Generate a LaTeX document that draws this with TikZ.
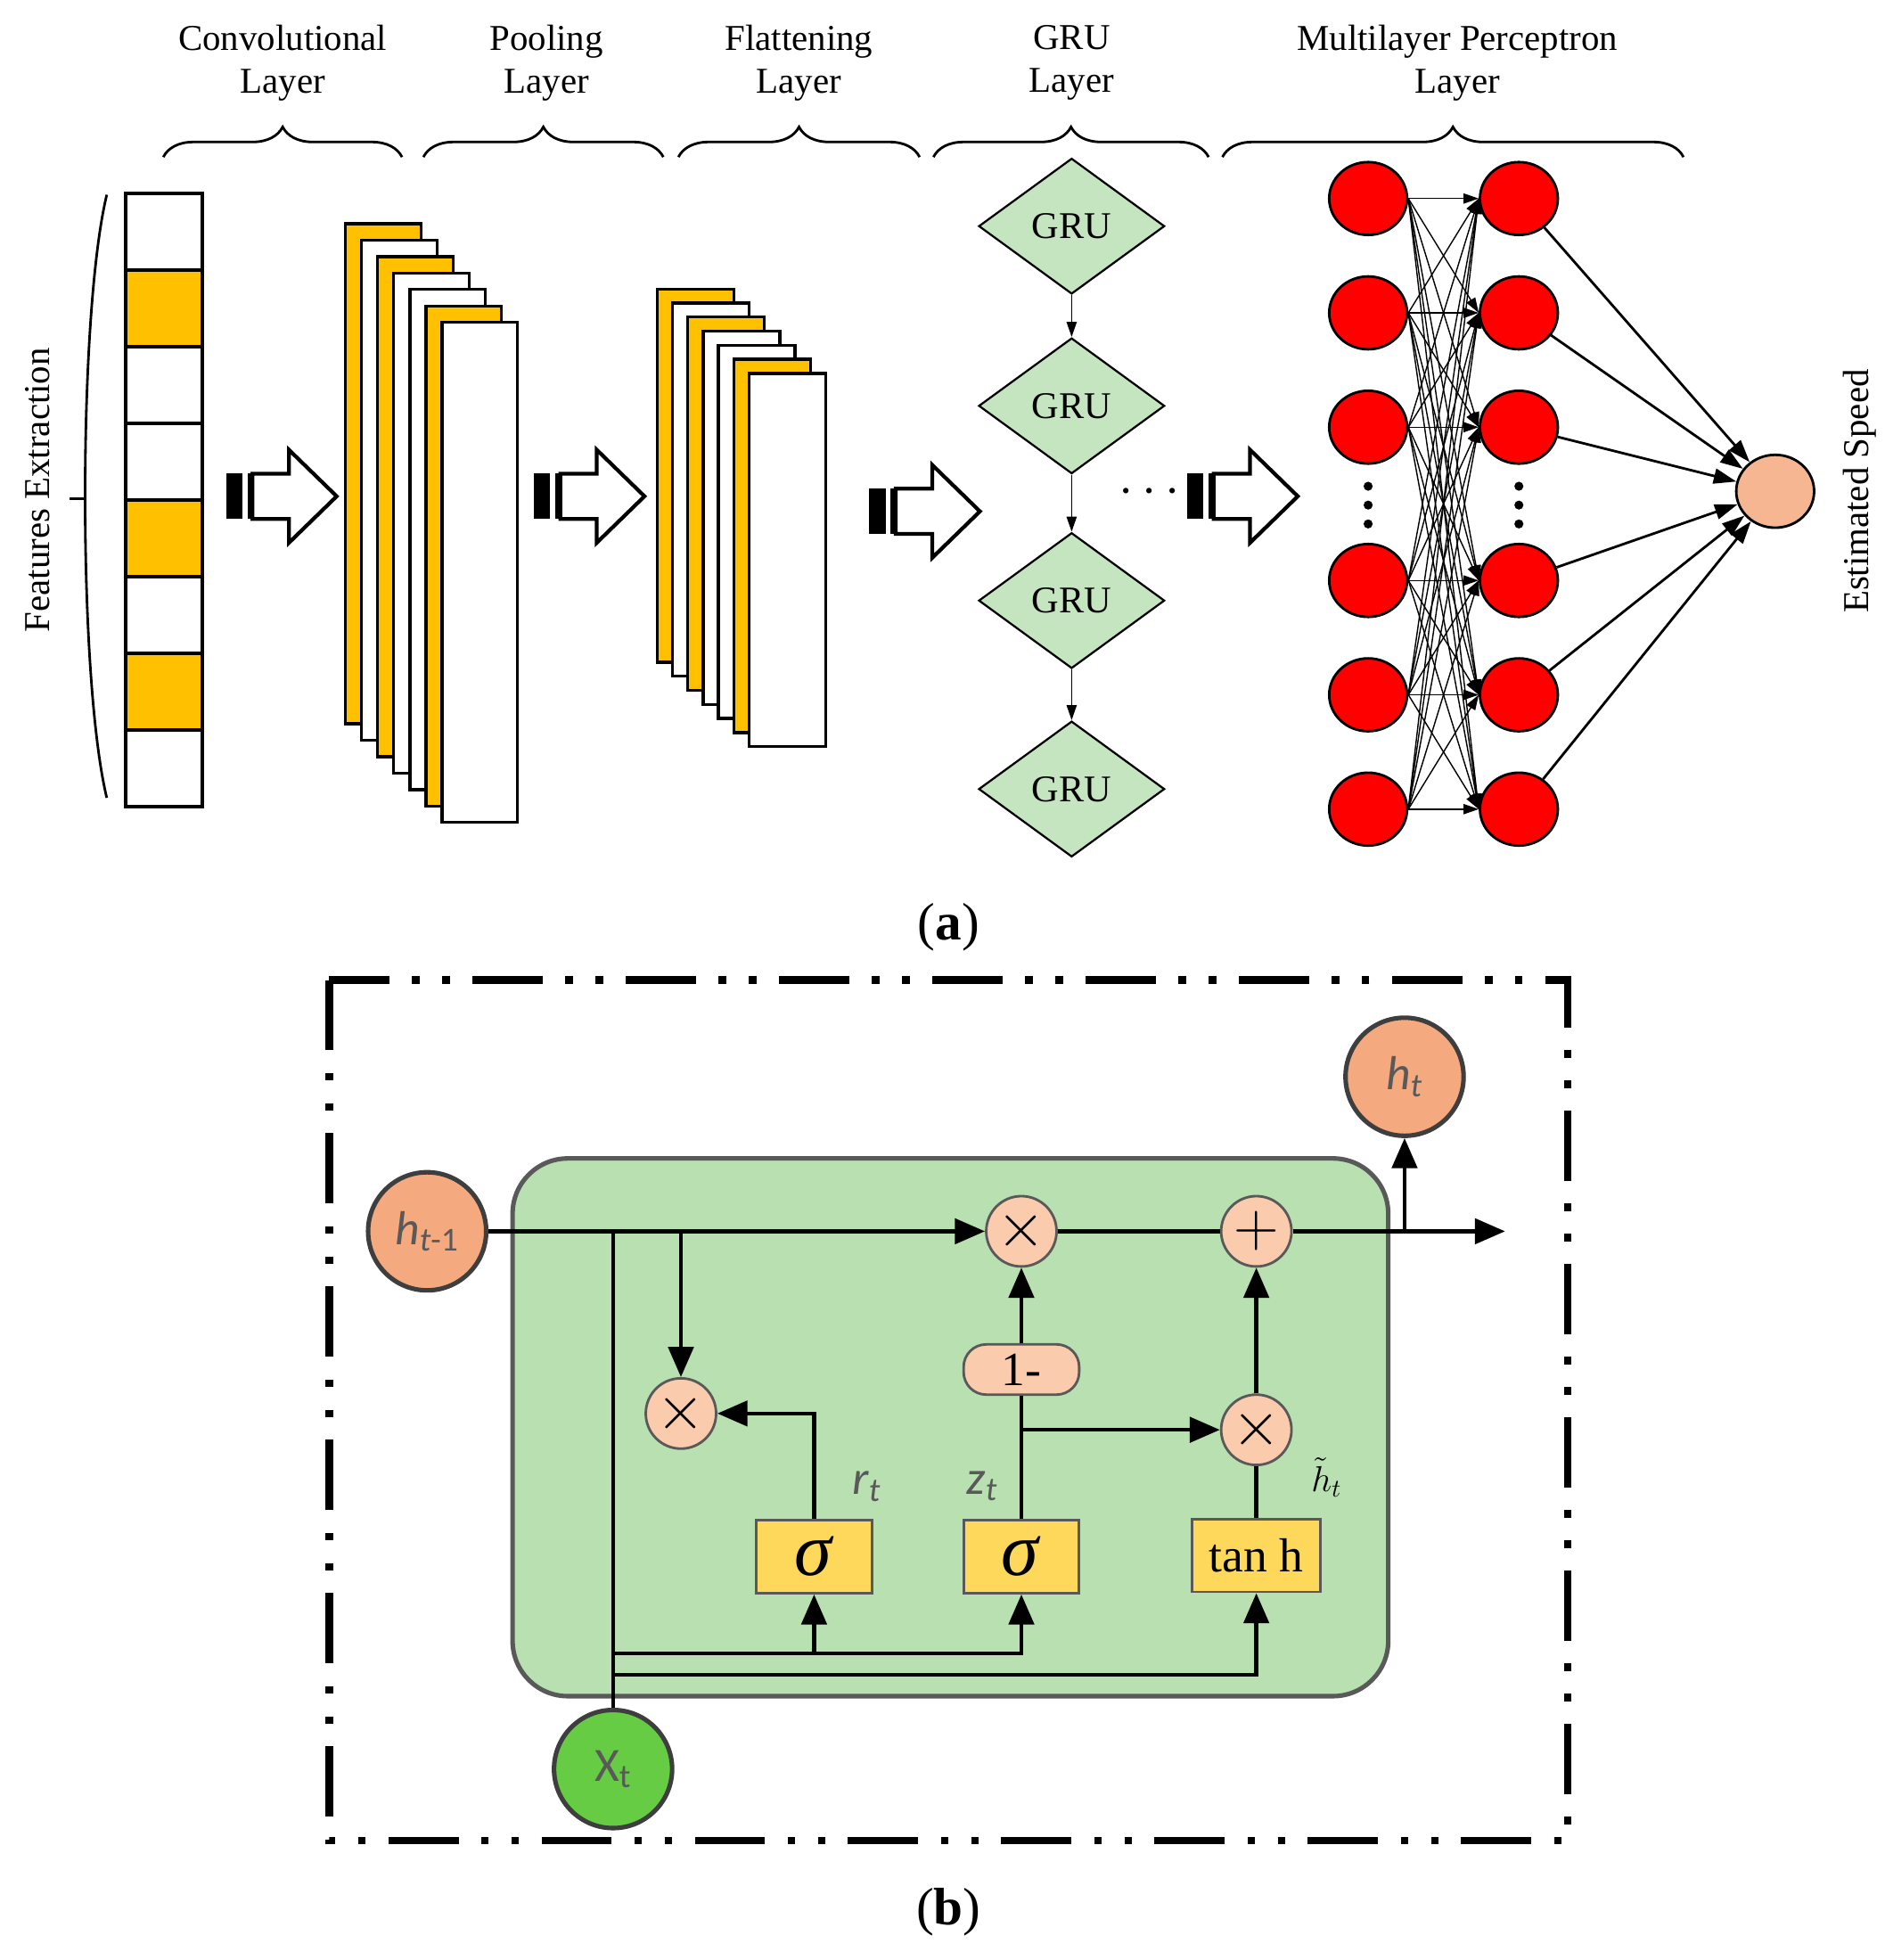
\documentclass[tikz,border=0pt]{standalone}
\usepackage{fontspec}
\setmainfont{Liberation Serif}
\newfontfamily\carfnt{Carlito}
\usetikzlibrary{shapes.geometric,arrows.meta,decorations.pathreplacing}
\definecolor{orng}{HTML}{FFC000}
\definecolor{gruG}{HTML}{C5E5C0}
\definecolor{boxG}{HTML}{B8E0B0}
\definecolor{salm}{HTML}{F4A97F}
\definecolor{lsalm}{HTML}{FBCBAE}
\definecolor{yel}{HTML}{FDD85B}
\definecolor{xg}{HTML}{66CC44}
\definecolor{dg}{HTML}{595959}
\newcommand\blkarrow[2]{\begin{scope}[shift={(#1,#2)}]
 \fill (0,-18) rectangle (13,18);
 \fill (17,-18) rectangle (21,18);
 \draw[line width=1.5pt,fill=white] (21,-18) -- (50,-18) -- (50,-37) -- (88,0) -- (50,37) -- (50,18) -- (21,18) -- cycle;
\end{scope}}
\begin{document}
\begin{tikzpicture}[x=0.5pt,y=-0.5pt,
 lab/.style={font=\fontsize{14.5}{17}\selectfont,align=center},
 brc/.style={decorate,decoration={brace,amplitude=12pt},line width=1pt},
 lay/.style={draw,line width=1.2pt},
 gru/.style={diamond,draw,fill=gruG,line width=0.8pt,minimum width=74pt,minimum height=54pt,inner sep=0pt,font=\fontsize{15}{17}\selectfont},
 neu/.style={ellipse,draw,fill=red,line width=1pt,minimum width=31pt,minimum height=29pt,inner sep=0pt},
 thin/.style={-{Triangle[length=6pt,width=4pt]},line width=0.6pt},
 arr/.style={-{Triangle[length=12pt,width=10pt]},line width=1.6pt},
 ln/.style={line width=1.6pt},
 op/.style={circle,draw=dg,fill=lsalm,line width=1pt,minimum size=28pt,inner sep=0pt,font=\fontsize{34}{34}\selectfont},
 bc/.style={circle,draw=dg!70!black,line width=1.8pt,minimum size=47pt,inner sep=0pt,text=dg,font=\carfnt\fontsize{19}{19}\selectfont},
 sg/.style={draw=dg,fill=yel,line width=1pt,minimum width=46pt,minimum height=29pt,inner sep=0pt}]
\useasboundingbox (0,0) rectangle (1500,1560);
% labels
\node[lab] (l1) at (225,50) {Convolutional\\Layer};
\node[lab] (l2) at (435,50) {Pooling\\Layer};
\node[lab] (l3) at (636,50) {Flattening\\Layer};
\node[lab] (l4) at (853,50) {GRU\\Layer};
\node[lab] (l5) at (1160,50) {Multilayer Perceptron\\Layer};
\foreach \a/\b in {130/320,337/528,540/732,743/962,973/1340}
  \draw[brc] (\a,125) -- (\b,125);
% feature column
\foreach \i/\c in {0/white,1/orng,2/white,3/white,4/orng,5/white,6/orng,7/white}
  \draw[lay,fill=\c] (100,154+61*\i) rectangle (161,215+61*\i);
\draw[line width=1pt] (85,155) .. controls (62,250) and (62,540) .. (85,635);
\draw[line width=1pt] (55,397) -- (68,397);
\node[lab,rotate=90] (fe) at (30,390) {Features Extraction};
% conv stack
\foreach \i/\c in {0/orng,1/white,2/orng,3/white,4/white,5/orng,6/white}
  \draw[lay,fill=\c] (275+12.8*\i,178+13.1*\i) rectangle +(60,398);
\foreach \i/\c in {0/orng,1/white,2/orng,3/white,4/white,5/orng,6/white}
  \draw[lay,fill=\c] (523+12.2*\i,230+11.2*\i) rectangle +(61,297);
\blkarrow{180}{395}
\blkarrow{425}{395}
\blkarrow{692}{407}
\blkarrow{945}{395}
% GRU
\node[gru] (g1) at (853,180) {GRU};
\node[gru] (g2) at (853,323) {GRU};
\node[gru] (g3) at (853,478) {GRU};
\node[gru] (g4) at (853,628) {GRU};
\draw[thin] (g1) -- (g2);
\draw[thin] (g2) -- (g3);
\draw[thin] (g3) -- (g4);
\node[font=\fontsize{20}{20}\selectfont] (dd) at (915,392) {$\cdots$};
% MLP
\foreach \i/\y in {1/158,2/249,3/340,4/462,5/553,6/644}{
  \node[neu] (a\i) at (1089,\y) {};
  \node[neu] (b\i) at (1209,\y) {};}
\foreach \i in {1,...,6}\foreach \j in {1,...,6}
  \draw[thin,line width=0.5pt] (a\i.east) -- (b\j.west);
\foreach \x in {1089,1209}\foreach \y in {387,402,417}
  \fill (\x,\y) circle (1.8pt);
\node[ellipse,draw,fill=salm!85!white,line width=1pt,minimum width=31pt,minimum height=29pt] (o) at (1413,391) {};
\foreach \i in {1,...,6} \draw[-{Triangle[length=9pt,width=6pt]},line width=1pt] (b\i) -- (o);
\node[lab,rotate=90] (es) at (1480,391) {Estimated Speed};
\node[font=\fontsize{21}{21}\selectfont] (la) at (755,738) {(\textbf{a})};
% part b
\draw[line width=3pt,dash pattern=on 28pt off 9pt on 3pt off 9pt on 3pt off 9pt] (262,780) rectangle (1248,1465);
\draw[draw=dg,fill=boxG,line width=1.8pt,rounded corners=22pt] (408,922) rectangle (1105,1350);
\node[bc,fill=salm] (hp) at (340,980) {\textit{h}\textsubscript{\textit{t}-1}};
\node[bc,fill=salm] (ht) at (1118,857) {\textit{h}\textsubscript{\textit{t}}};
\node[bc,fill=xg] (xt) at (488,1408) {X\textsubscript{t}};
\node[op] (m1) at (813,980) {$\times$};
\node[op] (pl) at (1000,980) {$+$};
\node[op] (m2) at (542,1125) {$\times$};
\node[op] (m3) at (1000,1138) {$\times$};
\node[sg] (sr) at (648,1239) {\fontsize{30}{30}\selectfont\textit{σ}};
\node[sg] (sz) at (813,1239) {\fontsize{30}{30}\selectfont\textit{σ}};
\node[sg,minimum width=51pt] (th) at (1000,1238) {\fontsize{19}{19}\selectfont tan h};
\node[draw=dg,fill=lsalm,line width=1pt,rounded corners=9pt,minimum width=46pt,minimum height=20pt,inner sep=0pt,font=\fontsize{19}{19}\selectfont] (om) at (813,1090) {1-};
\coordinate (out) at (1198,980);
\coordinate (j1) at (488,980);
\coordinate (j2) at (542,980);
\coordinate (j3) at (1118,980);
\draw[arr] (hp) -- (m1);
\draw[ln] (m1) -- (pl);
\draw[arr] (pl) -- (out);
\draw[arr] (j3) -- (ht);
\draw[arr] (j2) -- (m2);
\draw[arr] (sr.north) |- (m2);
\draw[ln] (sz) -- (om);
\draw[arr] (om) -- (m1);
\draw[arr] (813,1138) -- (m3);
\draw[arr] (m3) -- (pl);
\draw[ln] (th) -- (m3);
\draw[ln] (xt) -- (j1);
\coordinate (k1) at (488,1316);
\coordinate (k2) at (488,1333);
\draw[arr] (k1) -| (sz);
\draw[arr] (648,1316) -- (sr);
\draw[arr] (k2) -| (th);
\node[text=dg,font=\carfnt\itshape\fontsize{19}{19}\selectfont] (rt) at (690,1183) {r\textsubscript{t}};
\node[text=dg,font=\carfnt\itshape\fontsize{19}{19}\selectfont] (zt) at (782,1183) {z\textsubscript{t}};
\node[font=\fontsize{14}{14}\selectfont] (hh) at (1056,1176) {$\tilde{h}_t$};
\node[font=\fontsize{21}{21}\selectfont] (lb) at (755,1522) {(\textbf{b})};
\end{tikzpicture}
\end{document}
